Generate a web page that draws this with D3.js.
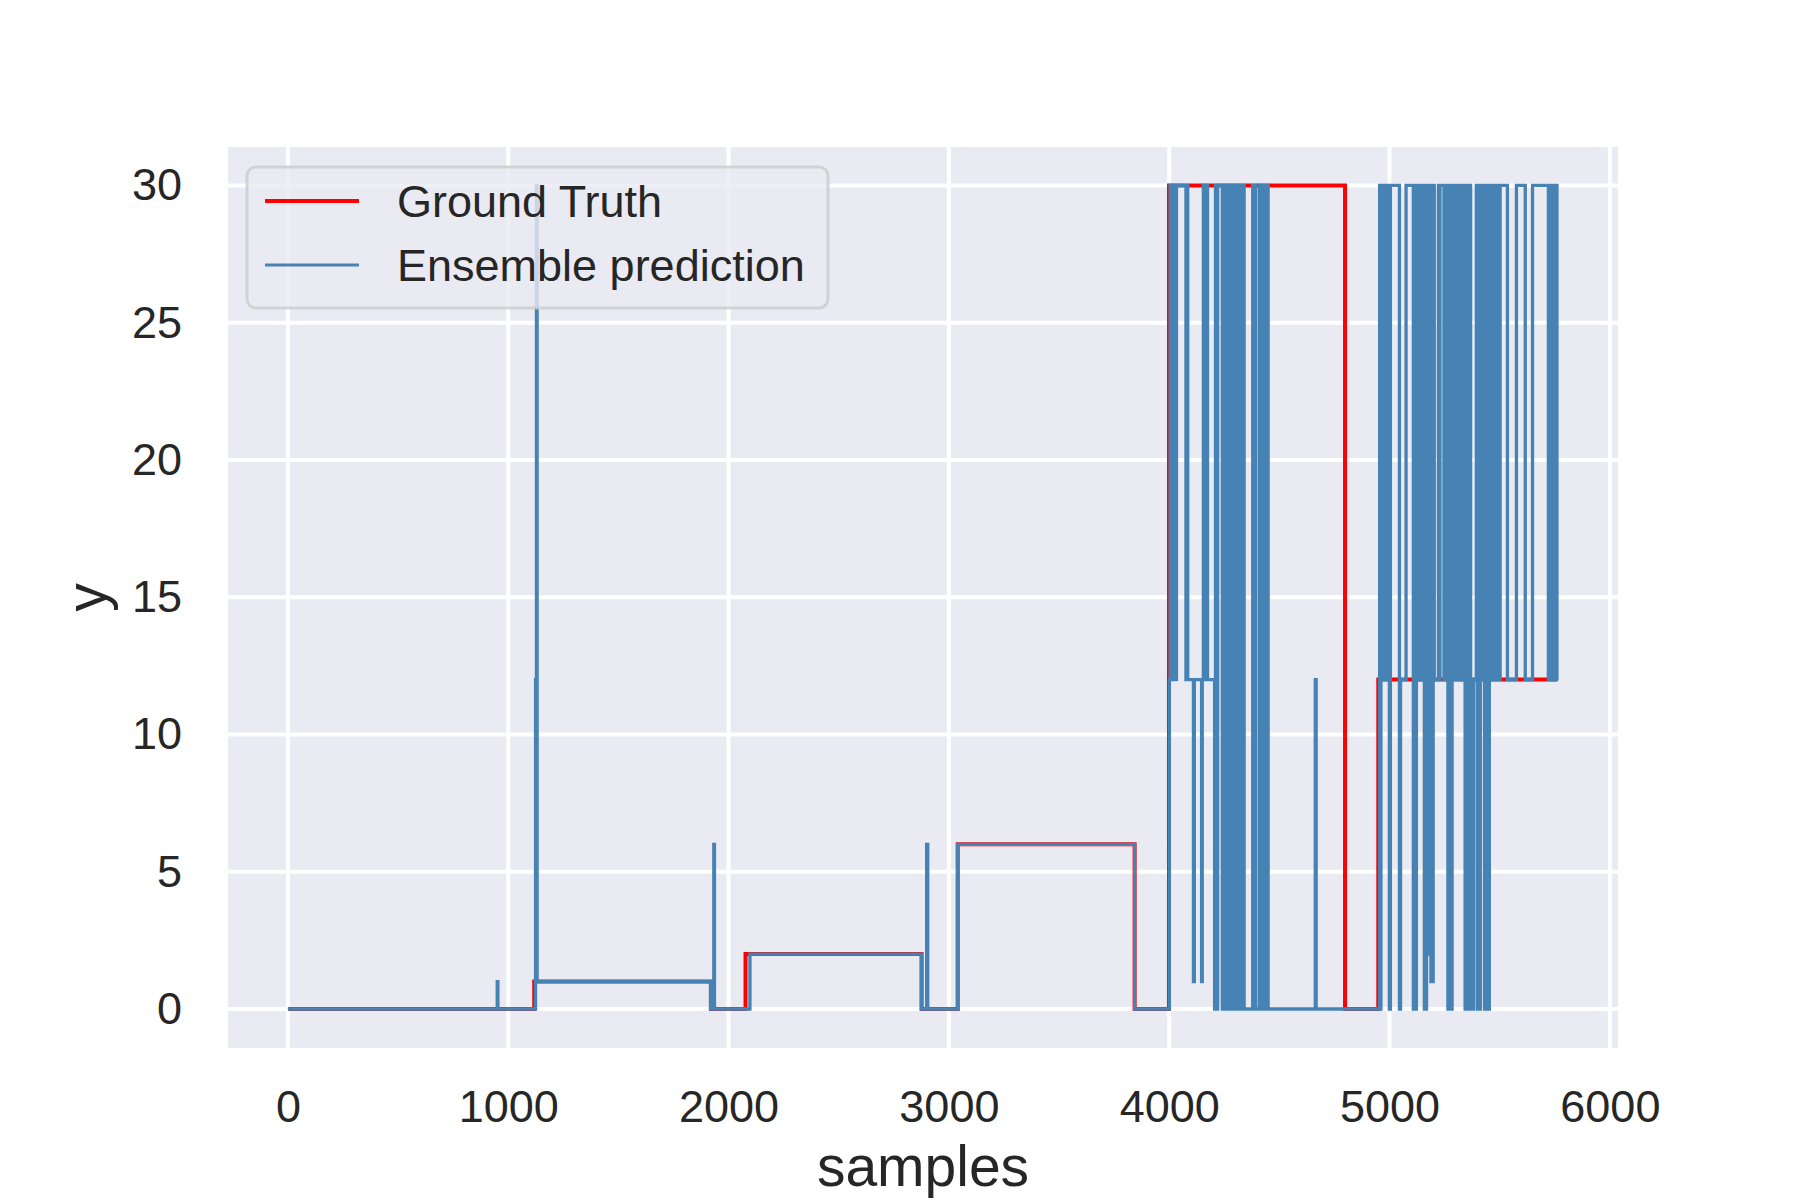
<!DOCTYPE html>
<html>
<head>
<meta charset="utf-8">
<script src="https://cdn.jsdelivr.net/npm/d3@7"></script>
<style>
  body { margin: 0; background: #fff; }
  svg { display: block; font-family: "Liberation Sans", Arial, sans-serif; }
</style>
</head>
<body>
<svg id="chart"></svg>
<script>
// tick values
const xTicks = [0, 1000, 2000, 3000, 4000, 5000, 6000];
const yTicks = [0, 5, 10, 15, 20, 25, 30];
const lastSample = 5760;

// ground truth: sample where each level starts, and the level
const truthStart = [0, 1118, 1920, 2077, 2876, 3040, 3843, 3999, 4798, 4949];
const truthValue = [0, 1, 0, 2, 0, 6, 0, 30, 0, 12];

// ensemble prediction: change points
const predStart = [
  0, 950, 953, 1124, 1126, 1128, 1131, 1918, 1933, 1936, 2097, 2876, 2899, 2904, 3040, 3843,
  4001, 4004, 4008, 4011, 4015, 4018, 4022, 4025, 4029, 4033,
  4076, 4081, 4084, 4110, 4114, 4147, 4150, 4155, 4160, 4163, 4174,
  4206, 4210, 4214, 4220, 4241, 4245, 4249, 4253, 4257, 4261, 4265, 4269, 4273, 4277,
  4281, 4285, 4289, 4293, 4297, 4301, 4305, 4309, 4313, 4317, 4321,
  4332, 4340, 4379, 4392, 4409, 4413, 4417, 4421, 4425, 4430, 4434, 4439, 4443, 4449,
  4663, 4667,
  4955, 4958, 4961, 4963, 4967, 4970, 4974, 4977, 4981, 4984, 4988,
  4992, 4999, 5004, 5045, 5050,
  5075, 5108, 5112, 5118, 5122, 5130, 5133, 5138, 5141, 5146,
  5158, 5161, 5165, 5168, 5172, 5176, 5179, 5182, 5185, 5188, 5191, 5195, 5198, 5203,
  5222, 5226, 5229, 5247,
  5256, 5262, 5265, 5268, 5272, 5276, 5280, 5284, 5290, 5296, 5301, 5309,
  5314, 5317, 5322, 5328, 5333, 5339, 5343, 5348, 5352, 5356, 5360, 5365, 5368,
  5381, 5394, 5398, 5405, 5409, 5412,
  5415, 5420, 5424, 5427, 5431, 5436, 5440, 5445, 5449, 5453, 5457, 5462, 5466, 5471,
  5475, 5480, 5484, 5489, 5493, 5502,
  5535, 5576, 5616, 5649,
  5721, 5727, 5730, 5736, 5740, 5745, 5749, 5758
];
const predValue = [
  0, 1, 0, 12, 1, 30, 1, 0, 6, 0, 2, 0, 6, 0, 6, 0,
  12, 30, 12, 30, 12, 30, 12, 30, 12, 30,
  12, 30, 12, 1, 12, 1, 12, 30, 12, 30, 12,
  0, 30, 0, 30, 0, 30, 0, 30, 0, 30, 0, 30, 0, 30,
  0, 30, 0, 30, 0, 30, 0, 30, 0, 30, 0,
  30, 0, 30, 0, 30, 0, 30, 0, 30, 0, 30, 0, 30, 0,
  12, 0,
  30, 0, 12, 30, 12, 30, 12, 30, 12, 30, 12,
  30, 0, 30, 0, 12,
  30, 0, 30, 0, 30, 12, 30, 12, 30, 12,
  0, 30, 0, 30, 12, 2, 30, 2, 30, 1, 30, 1, 30, 12,
  30, 12, 30, 12,
  30, 12, 0, 30, 0, 30, 0, 30, 12, 30, 12, 30,
  12, 30, 12, 30, 12, 30, 0, 30, 0, 30, 0, 30, 0, 12,
  30, 0, 30, 0, 30, 12,
  30, 12, 30, 0, 30, 0, 30, 0, 30, 12, 30, 12, 30, 12,
  30, 12, 30, 12, 30, 12,
  30, 12, 30, 12,
  30, 12, 30, 12, 30, 12, 30, 12
];

const seriesNames = ["Ground Truth", "Ensemble prediction"];
const seriesColors = ["#ff0000", "#4682b4"];

const W = 1800, H = 1200;
const plot = {left: 228, right: 1618, top: 147, bottom: 1048};
const textColor = "#262626";

const svg = d3.select("#chart").attr("width", W).attr("height", H);

const x = d3.scaleLinear().domain([-272, 6037]).range([plot.left, plot.right]);
const y = d3.scaleLinear().domain([-1.42, 31.4]).range([plot.bottom, plot.top]);

// background
svg.append("rect")
  .attr("x", plot.left).attr("y", plot.top)
  .attr("width", plot.right - plot.left).attr("height", plot.bottom - plot.top)
  .attr("fill", "#eaeaf2");

// grid
svg.append("g").selectAll("line").data(xTicks).enter().append("line")
  .attr("x1", d => x(d)).attr("x2", d => x(d))
  .attr("y1", plot.top).attr("y2", plot.bottom)
  .attr("stroke", "#fff").attr("stroke-width", 4);
svg.append("g").selectAll("line").data(yTicks).enter().append("line")
  .attr("y1", d => y(d)).attr("y2", d => y(d))
  .attr("x1", plot.left).attr("x2", plot.right)
  .attr("stroke", "#fff").attr("stroke-width", 4);

// axes (labels only, seaborn darkgrid has no tick marks)
const xAxis = svg.append("g")
  .attr("transform", "translate(0," + plot.bottom + ")")
  .call(d3.axisBottom(x).tickValues(xTicks).tickSize(0).tickPadding(42).tickFormat(d3.format("d")));
const yAxis = svg.append("g")
  .attr("transform", "translate(" + plot.left + ",0)")
  .call(d3.axisLeft(y).tickValues(yTicks).tickSize(0).tickPadding(46).tickFormat(d3.format("d")));
[xAxis, yAxis].forEach(a => {
  a.select(".domain").remove();
  a.selectAll("text")
    .attr("font-size", "45px")
    .attr("font-family", "'Liberation Sans', Arial, sans-serif")
    .attr("fill", textColor);
});

// step lines
function stepPoints(starts, values) {
  const pts = starts.map((s, i) => [s, values[i]]);
  pts.push([lastSample, values[values.length - 1]]);
  return pts;
}
const line = d3.line()
  .x(d => x(d[0]))
  .y(d => y(d[1]))
  .curve(d3.curveStepAfter);

svg.append("path")
  .datum(stepPoints(truthStart, truthValue))
  .attr("d", line)
  .attr("fill", "none")
  .attr("stroke", seriesColors[0])
  .attr("stroke-width", 4);

svg.append("path")
  .datum(stepPoints(predStart, predValue))
  .attr("d", line)
  .attr("fill", "none")
  .attr("stroke", seriesColors[1])
  .attr("stroke-width", 3.3);

// axis labels
svg.append("text")
  .attr("x", (plot.left + plot.right) / 2)
  .attr("y", 1186)
  .attr("text-anchor", "middle")
  .attr("font-size", "57px")
  .attr("fill", textColor)
  .text("samples");

svg.append("text")
  .attr("transform", "translate(106," + ((plot.top + plot.bottom) / 2) + ") rotate(-90)")
  .attr("text-anchor", "middle")
  .attr("font-size", "57px")
  .attr("fill", textColor)
  .text("y");

// legend
const legend = svg.append("g");
legend.append("rect")
  .attr("x", 247).attr("y", 167)
  .attr("width", 581).attr("height", 141)
  .attr("rx", 9).attr("ry", 9)
  .attr("fill", "#eaeaf2").attr("fill-opacity", 0.8)
  .attr("stroke", "#cccccc").attr("stroke-opacity", 0.8)
  .attr("stroke-width", 3);

const entries = legend.selectAll("g.entry")
  .data(seriesNames)
  .enter().append("g")
  .attr("class", "entry")
  .attr("transform", (d, i) => "translate(0," + (201 + i * 64) + ")");

entries.append("line")
  .attr("x1", 265).attr("x2", 359)
  .attr("stroke", (d, i) => seriesColors[i])
  .attr("stroke-width", (d, i) => i === 0 ? 4 : 3);

entries.append("text")
  .attr("x", 397)
  .attr("dy", "0.35em")
  .attr("font-size", "45px")
  .attr("fill", textColor)
  .text(d => d);
</script>
</body>
</html>
